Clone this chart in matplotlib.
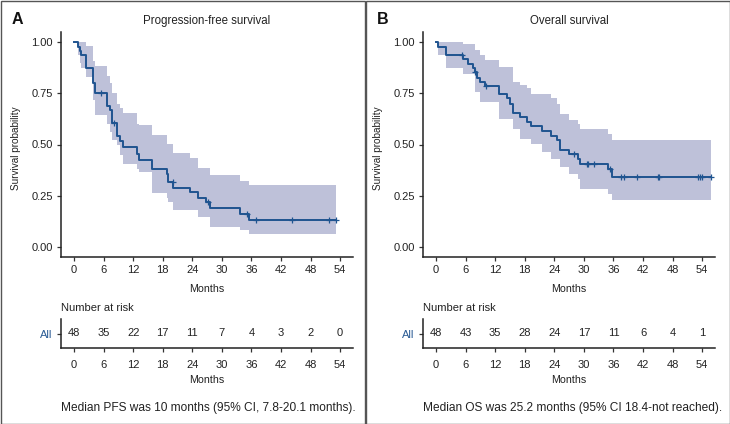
import matplotlib
matplotlib.use("Agg")
import matplotlib.pyplot as plt
import numpy as np
from matplotlib import font_manager
from matplotlib.patches import Rectangle

# ---- data ----
pfs_time = [0, 0.7, 1.2, 1.5, 2.4, 3.9, 4.3, 6.6, 7.3, 7.7, 8.8, 9.4, 10.0, 12.8, 13.1,
            15.9, 18.8, 19.1, 20.1, 23.5, 25.1, 26.8, 27.6, 33.6, 35.4, 53.1]
pfs_surv = [1.0, 0.979, 0.958, 0.938, 0.875, 0.80, 0.75, 0.688, 0.667, 0.604, 0.54, 0.515, 0.49,
            0.455, 0.424, 0.378, 0.358, 0.317, 0.289, 0.267, 0.24, 0.218, 0.19, 0.161, 0.131, 0.131]
pfs_lower = [1.0, 0.94, 0.90, 0.875, 0.83, 0.72, 0.645, 0.60, 0.563, 0.52, 0.497, 0.45, 0.407,
             0.38, 0.366, 0.263, 0.24, 0.218, 0.18, 0.18, 0.145, 0.145, 0.099, 0.082, 0.063, 0.063]
pfs_upper = [1.0, 1.0, 1.0, 1.0, 0.98, 0.91, 0.883, 0.834, 0.80, 0.75, 0.70, 0.68, 0.655,
             0.60, 0.596, 0.547, 0.502, 0.502, 0.457, 0.433, 0.384, 0.384, 0.35, 0.322, 0.30, 0.30]
pfs_censor = [5.5, 8.2, 20.0, 27.2, 35.1, 36.9, 44.3, 51.7, 53.1]

os_time = [0, 0.4, 2.1, 5.5, 6.4, 7.5, 7.8, 8.3, 8.9, 10.0, 12.75, 14.3, 15.0, 15.7, 17.0,
           18.5, 19.3, 21.4, 23.3, 24.5, 25.2, 27.0, 28.8, 29.2, 34.8, 35.7, 55.7]
os_surv = [1.0, 0.979, 0.938, 0.917, 0.896, 0.873, 0.853, 0.823, 0.807, 0.787, 0.745, 0.725,
           0.70, 0.656, 0.635, 0.61, 0.59, 0.564, 0.541, 0.52, 0.474, 0.454, 0.43, 0.405, 0.38,
           0.343, 0.343]
os_lower = [1.0, 0.94, 0.873, 0.843, 0.843, 0.843, 0.757, 0.757, 0.708, 0.708, 0.627, 0.627,
            0.627, 0.577, 0.528, 0.528, 0.504, 0.462, 0.43, 0.43, 0.389, 0.356, 0.33, 0.282,
            0.258, 0.228, 0.228]
os_upper = [1.0, 1.0, 1.0, 0.99, 0.99, 0.99, 0.963, 0.963, 0.94, 0.913, 0.877, 0.877, 0.877,
            0.807, 0.79, 0.774, 0.745, 0.745, 0.725, 0.70, 0.651, 0.622, 0.60, 0.577, 0.553,
            0.523, 0.523]
os_censor = [5.3, 8.0, 10.2, 28.0, 30.6, 30.9, 32.1, 35.3, 37.5, 38.2, 40.7, 45.0, 45.15,
             53.1, 53.6, 54.0, 55.7]

risk_times = [0, 6, 12, 18, 24, 30, 36, 42, 48, 54]
pfs_risk = [48, 35, 22, 17, 11, 7, 4, 3, 2, 0]
os_risk = [48, 43, 35, 28, 24, 17, 11, 6, 4, 1]

y_ticks = [0.0, 0.25, 0.5, 0.75, 1.0]

# ---- style ----
names = {f.name for f in font_manager.fontManager.ttflist}
base = "Liberation Sans" if "Liberation Sans" in names else "DejaVu Sans"
narrow = "Liberation Sans Narrow" if "Liberation Sans Narrow" in names else base
narrow_scale = 1.0 if narrow != base else 0.9
plt.rcParams["font.family"] = [base, "DejaVu Sans"]

LINE = "#1f5490"
BAND = "#bec1d9"
TXT = "#222222"
W, H = 730, 424


def rect(x0, y0, x1, y1):
    return [x0 / W, 1 - y1 / H, (x1 - x0) / W, (y1 - y0) / H]


def style_axes(ax, pad=3):
    for s in ["top", "right"]:
        ax.spines[s].set_visible(False)
    for s in ["left", "bottom"]:
        ax.spines[s].set_linewidth(1.1)
        ax.spines[s].set_color("#222222")
    ax.tick_params(length=3, width=0.9, labelsize=8, color="#333333", labelcolor=TXT, pad=pad)


fig = plt.figure(figsize=(W / 100, H / 100), dpi=100)

panels = [
    (0, 0, "A", "Progression-free survival", pfs_time, pfs_surv, pfs_lower, pfs_upper,
     pfs_censor, pfs_risk, "Median PFS was 10 months (95% CI, 7.8-20.1 months)."),
    (362, 365, "B", "Overall survival", os_time, os_surv, os_lower, os_upper, os_censor,
     os_risk, "Median OS was 25.2 months (95% CI 18.4-not reached)."),
]

for off, frame_x, letter, title, t, s, lo, hi, cens, risk, note in panels:
    x0, x1 = 61 + off, 353 + off
    ax = fig.add_axes(rect(x0, 32, x1, 257))
    ax.fill_between(t, lo, hi, step="post", color=BAND, lw=0)
    ax.step(t, s, where="post", color=LINE, lw=1.4)
    idx = np.searchsorted(t, cens, side="right") - 1
    ax.plot(cens, np.array(s)[idx], "+", color=LINE, ms=5, mew=0.9)
    ax.set_xlim(-2.65, 56.6)
    ax.set_ylim(-0.05, 1.05)
    ax.set_xticks(risk_times)
    ax.set_yticks(y_ticks)
    ax.set_yticklabels(["%.2f" % v for v in y_ticks])
    style_axes(ax, pad=3)
    cx = (x0 + x1) / 2 / W
    fig.text(cx, 1 - 21 / H, title, ha="center", va="center", fontsize=8.3, color=TXT)
    fig.text((12 + frame_x) / W, 1 - 20 / H, letter, ha="left", va="center", fontsize=11.5,
             fontweight="bold", color="#111111")
    fig.text((16 + off) / W, 1 - 148 / H, "Survival probability", rotation=90, ha="center",
             va="center", fontsize=8 * narrow_scale, family=narrow, color=TXT)
    fig.text(cx, 1 - 289 / H, "Months", ha="center", va="center", fontsize=8.5 * narrow_scale,
             family=narrow, color=TXT)

    # risk table
    tb = fig.add_axes(rect(x0, 319, x1, 348))
    tb.set_xlim(-2.65, 56.6)
    tb.set_ylim(0, 1)
    tb.set_xticks(risk_times)
    tb.set_yticks([0.5])
    tb.set_yticklabels(["All"])
    style_axes(tb, pad=6)
    tb.tick_params(axis="y", pad=3)
    tb.get_yticklabels()[0].set_color("#2b5c95")
    for xt, n in zip(risk_times, risk):
        tb.text(xt, 0.5, str(n), ha="center", va="center", fontsize=8, color=TXT)
    fig.text(x0 / W, 1 - 308 / H, "Number at risk", ha="left", va="center", fontsize=8,
             color=TXT)
    fig.text(cx, 1 - 380 / H, "Months", ha="center", va="center", fontsize=8.5 * narrow_scale,
             family=narrow, color=TXT)
    fig.text(x0 / W, 1 - 408 / H, note, ha="left", va="center", fontsize=8.55, color=TXT)

    # panel frame
    fig.add_artist(Rectangle(((frame_x + 0.5) / W, 0.5 / H), 364 / W, (H - 1.5) / H,
                             transform=fig.transFigure, fill=False, ec="#555555", lw=1.0))

fig.savefig("out.png", dpi=100)
